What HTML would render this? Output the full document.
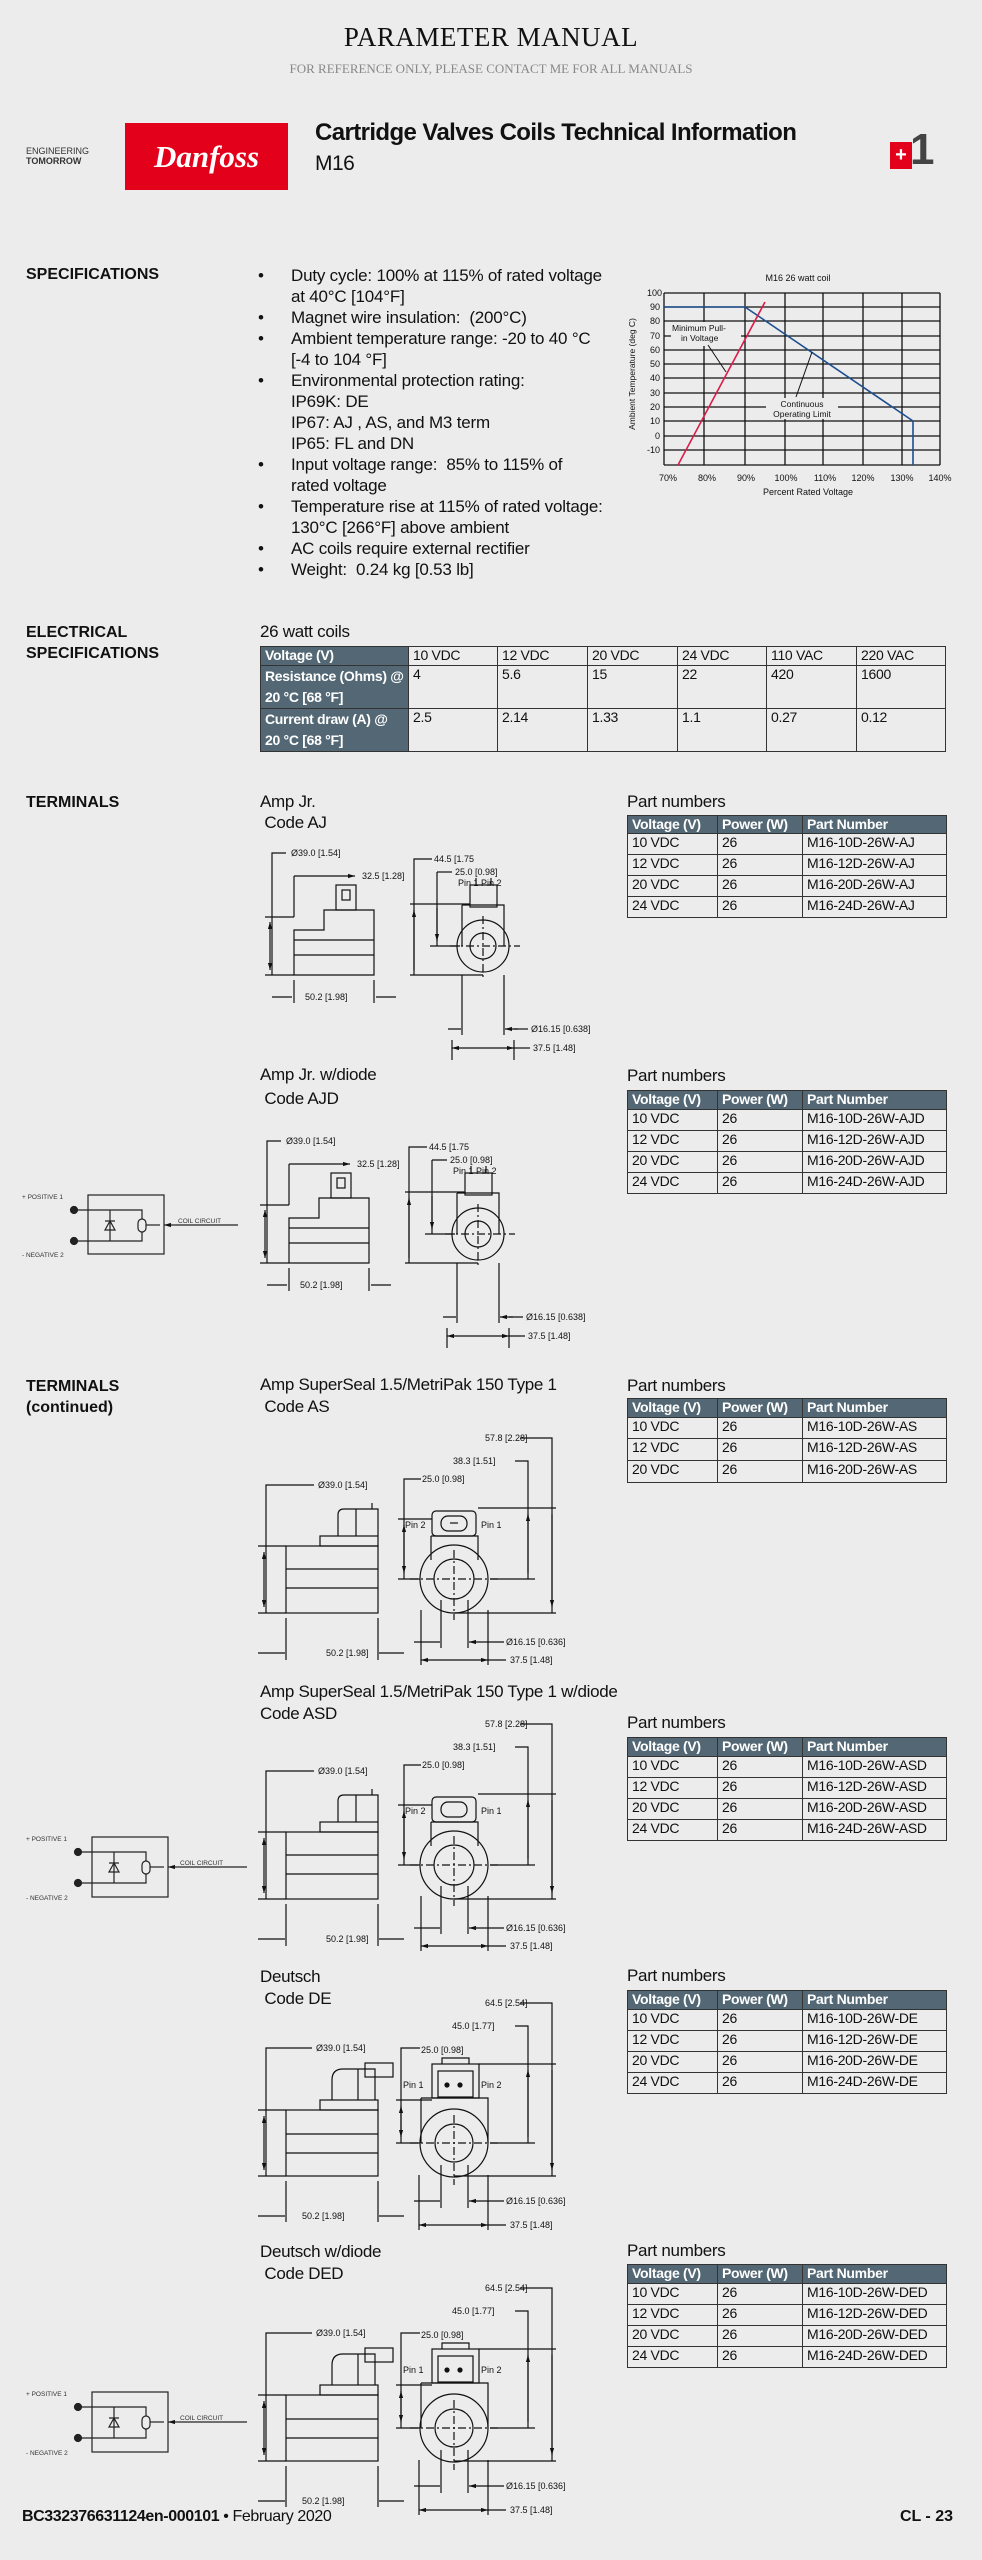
<!DOCTYPE html>
<html><head><meta charset="utf-8">
<style>
*{margin:0;padding:0;box-sizing:border-box}
body{width:982px;height:2560px;background:#ececec;position:relative;overflow:hidden;font-family:"Liberation Sans",sans-serif;color:#111}
.a{position:absolute;white-space:nowrap}
.h{font-weight:bold;font-size:16px;line-height:21px}
.t{font-size:17px;letter-spacing:-0.3px}
.b{font-size:17px;letter-spacing:-0.2px;line-height:21px}
table{position:absolute;border-collapse:collapse;font-size:14px;letter-spacing:-0.3px}
td{border:1.5px solid #333;padding:0 4px;vertical-align:top}
td.s{background:#536874;color:#fff;font-weight:bold}
</style></head><body>

<div class="a" style="left:0;width:982px;text-align:center;top:22px;font-family:'Liberation Serif',serif;font-size:27px;letter-spacing:0.5px">PARAMETER MANUAL</div>
<div class="a" style="left:0;width:982px;text-align:center;top:61px;font-family:'Liberation Serif',serif;font-size:13px;color:#888">FOR REFERENCE ONLY, PLEASE CONTACT ME FOR ALL MANUALS</div>

<div class="a" style="left:26px;top:146px;font-size:9px;line-height:10px;color:#333">ENGINEERING<br><b>TOMORROW</b></div>
<div class="a" style="left:125px;top:123px;width:163px;height:67px;background:#e2001a;color:#fff;font-family:'Liberation Serif',serif;font-style:italic;font-weight:bold;font-size:31px;text-align:center;line-height:67px">Danfoss</div>
<div class="a" style="left:315px;top:119px;font-size:24px;font-weight:bold;letter-spacing:-0.6px">Cartridge Valves Coils Technical Information</div>
<div class="a" style="left:315px;top:152px;font-size:21px;letter-spacing:-0.5px">M16</div>
<div class="a" style="left:890px;top:142px;width:22px;height:27px;background:#e2001a;color:#fff;font-weight:bold;font-size:20px;text-align:center;line-height:27px">+</div>
<div class="a" style="left:910px;top:128px;font-size:44px;font-weight:bold;color:#444;line-height:44px">1</div>

<div class="a h" style="left:26px;top:264px">SPECIFICATIONS</div>
<div class="a b" style="left:258px;top:265px">
•<br><br>•<br>•<br><br>•<br><br><br><br>•<br><br>•<br><br>•<br>•</div>
<div class="a b" style="left:291px;top:265px">Duty cycle: 100% at 115% of rated voltage<br>at 40°C [104°F]<br>Magnet wire insulation:&nbsp; (200°C)<br>Ambient temperature range: -20 to 40 °C<br>[-4 to 104 °F]<br>Environmental protection rating:<br>IP69K: DE<br>IP67: AJ , AS, and M3 term<br>IP65: FL and DN<br>Input voltage range:&nbsp; 85% to 115% of<br>rated voltage<br>Temperature rise at 115% of rated voltage:<br>130°C [266°F] above ambient<br>AC coils require external rectifier<br>Weight:&nbsp; 0.24 kg [0.53 lb]</div>

<div class="a h" style="left:26px;top:622px">ELECTRICAL<br>SPECIFICATIONS</div>
<div class="a t" style="left:260px;top:622px">26 watt coils</div>
<table style="left:260px;top:646px;width:686px">
<tr style="height:19px"><td class="s" style="width:148px">Voltage (V)</td><td style="width:89px">10 VDC</td><td style="width:90px">12 VDC</td><td style="width:90px">20 VDC</td><td style="width:89px">24 VDC</td><td style="width:90px">110 VAC</td><td>220 VAC</td></tr>
<tr style="height:42px"><td class="s" style="line-height:21px">Resistance (Ohms) @<br>20 °C [68 °F]</td><td>4</td><td>5.6</td><td>15</td><td>22</td><td>420</td><td>1600</td></tr>
<tr style="height:43px"><td class="s" style="line-height:21px">Current draw (A) @<br>20 °C [68 °F]</td><td>2.5</td><td>2.14</td><td>1.33</td><td>1.1</td><td>0.27</td><td>0.12</td></tr>
</table>

<div class="a h" style="left:26px;top:792px">TERMINALS</div>
<div class="a t" style="left:260px;top:791px;line-height:21px">Amp Jr.<br>&nbsp;Code AJ</div>
<div class="a t" style="left:627px;top:792px">Part numbers</div>
<table style="left:627px;top:815px;width:320px">
<tr style="height:18px"><td class="s" style="width:90px">Voltage (V)</td><td class="s" style="width:85px">Power (W)</td><td class="s">Part Number</td></tr>
<tr style="height:21px"><td>10 VDC</td><td>26</td><td>M16-10D-26W-AJ</td></tr>
<tr style="height:21px"><td>12 VDC</td><td>26</td><td>M16-12D-26W-AJ</td></tr>
<tr style="height:21px"><td>20 VDC</td><td>26</td><td>M16-20D-26W-AJ</td></tr>
<tr style="height:21px"><td>24 VDC</td><td>26</td><td>M16-24D-26W-AJ</td></tr>
</table>

<div class="a t" style="left:260px;top:1063px;line-height:24px">Amp Jr. w/diode<br>&nbsp;Code AJD</div>
<div class="a t" style="left:627px;top:1066px">Part numbers</div>
<table style="left:627px;top:1090px;width:320px">
<tr style="height:19px"><td class="s" style="width:90px">Voltage (V)</td><td class="s" style="width:85px">Power (W)</td><td class="s">Part Number</td></tr>
<tr style="height:21px"><td>10 VDC</td><td>26</td><td>M16-10D-26W-AJD</td></tr>
<tr style="height:21px"><td>12 VDC</td><td>26</td><td>M16-12D-26W-AJD</td></tr>
<tr style="height:21px"><td>20 VDC</td><td>26</td><td>M16-20D-26W-AJD</td></tr>
<tr style="height:21px"><td>24 VDC</td><td>26</td><td>M16-24D-26W-AJD</td></tr>
</table>

<div class="a h" style="left:26px;top:1376px">TERMINALS<br>(continued)</div>
<div class="a t" style="left:260px;top:1374px;line-height:22px">Amp SuperSeal 1.5/MetriPak 150 Type 1<br>&nbsp;Code AS</div>
<div class="a t" style="left:627px;top:1376px">Part numbers</div>
<table style="left:627px;top:1398px;width:320px">
<tr style="height:19px"><td class="s" style="width:90px">Voltage (V)</td><td class="s" style="width:85px">Power (W)</td><td class="s">Part Number</td></tr>
<tr style="height:21px"><td>10 VDC</td><td>26</td><td>M16-10D-26W-AS</td></tr>
<tr style="height:22px"><td>12 VDC</td><td>26</td><td>M16-12D-26W-AS</td></tr>
<tr style="height:22px"><td>20 VDC</td><td>26</td><td>M16-20D-26W-AS</td></tr>
</table>

<div class="a t" style="left:260px;top:1681px;line-height:22px">Amp SuperSeal 1.5/MetriPak 150 Type 1 w/diode<br>Code ASD</div>
<div class="a t" style="left:627px;top:1713px">Part numbers</div>
<table style="left:627px;top:1737px;width:320px">
<tr style="height:19px"><td class="s" style="width:90px">Voltage (V)</td><td class="s" style="width:85px">Power (W)</td><td class="s">Part Number</td></tr>
<tr style="height:21px"><td>10 VDC</td><td>26</td><td>M16-10D-26W-ASD</td></tr>
<tr style="height:21px"><td>12 VDC</td><td>26</td><td>M16-12D-26W-ASD</td></tr>
<tr style="height:21px"><td>20 VDC</td><td>26</td><td>M16-20D-26W-ASD</td></tr>
<tr style="height:21px"><td>24 VDC</td><td>26</td><td>M16-24D-26W-ASD</td></tr>
</table>

<div class="a t" style="left:260px;top:1966px;line-height:22px">Deutsch<br>&nbsp;Code DE</div>
<div class="a t" style="left:627px;top:1966px">Part numbers</div>
<table style="left:627px;top:1990px;width:320px">
<tr style="height:19px"><td class="s" style="width:90px">Voltage (V)</td><td class="s" style="width:85px">Power (W)</td><td class="s">Part Number</td></tr>
<tr style="height:21px"><td>10 VDC</td><td>26</td><td>M16-10D-26W-DE</td></tr>
<tr style="height:21px"><td>12 VDC</td><td>26</td><td>M16-12D-26W-DE</td></tr>
<tr style="height:21px"><td>20 VDC</td><td>26</td><td>M16-20D-26W-DE</td></tr>
<tr style="height:21px"><td>24 VDC</td><td>26</td><td>M16-24D-26W-DE</td></tr>
</table>

<div class="a t" style="left:260px;top:2241px;line-height:22px">Deutsch w/diode<br>&nbsp;Code DED</div>
<div class="a t" style="left:627px;top:2241px">Part numbers</div>
<table style="left:627px;top:2264px;width:320px">
<tr style="height:19px"><td class="s" style="width:90px">Voltage (V)</td><td class="s" style="width:85px">Power (W)</td><td class="s">Part Number</td></tr>
<tr style="height:21px"><td>10 VDC</td><td>26</td><td>M16-10D-26W-DED</td></tr>
<tr style="height:21px"><td>12 VDC</td><td>26</td><td>M16-12D-26W-DED</td></tr>
<tr style="height:21px"><td>20 VDC</td><td>26</td><td>M16-20D-26W-DED</td></tr>
<tr style="height:21px"><td>24 VDC</td><td>26</td><td>M16-24D-26W-DED</td></tr>
</table>

<div class="a" style="left:22px;top:2508px;font-size:16px;letter-spacing:-0.4px"><b>BC332376631124en-000101</b> • February 2020</div>
<div class="a" style="left:880px;width:73px;text-align:right;top:2508px;font-size:16px;font-weight:bold">CL - 23</div>

<svg class="a" style="left:0;top:0" width="982" height="2560" viewBox="0 0 982 2560" font-family="Liberation Sans, sans-serif">
<defs>
<marker id="ar" viewBox="0 0 10 10" refX="10" refY="5" markerWidth="6" markerHeight="6" orient="auto-start-reverse"><path d="M0,2 L10,5 L0,8 z" fill="#111"/></marker>
</defs>

<g stroke="#111" stroke-width="1.3" fill="none">
<text x="798" y="281" font-size="9" text-anchor="middle" fill="#111" stroke="none">M16 26 watt coil</text>
<path d="M664,293H940M664,307H940M664,321H940M664,336H940M664,350H940M664,364H940M664,378H940M664,393H940M664,407H940M664,421H940M664,436H940M664,450H940M664,465H940"/>
<path d="M664,293V465M704,293V465M745,293V465M785,293V465M823,293V465M863,293V465M902,293V465M940,293V465"/>
<path d="M664,307H745L913,421V465" stroke="#1d4f8f" stroke-width="1.6"/>
<path d="M678,465L765,302" stroke="#d81e4a" stroke-width="1.6"/>
<rect x="671" y="322" width="70" height="24" fill="#ececec" stroke="none"/>
<path d="M708,345L726,372M812,352L796,397" stroke-width="1"/>
<rect x="766" y="398" width="72" height="21" fill="#ececec" stroke="none"/>
</g>
<g font-size="8.5" fill="#111">
<text x="672" y="331">Minimum Pull-</text><text x="681" y="341">in Voltage</text>
<text x="802" y="407" text-anchor="middle">Continuous</text><text x="802" y="417" text-anchor="middle">Operating Limit</text>
<g text-anchor="end" font-size="9"><text x="662" y="296">100</text><text x="660" y="310">90</text><text x="660" y="324">80</text><text x="660" y="339">70</text><text x="660" y="353">60</text><text x="660" y="367">50</text><text x="660" y="381">40</text><text x="660" y="396">30</text><text x="660" y="410">20</text><text x="660" y="424">10</text><text x="660" y="439">0</text><text x="660" y="453">-10</text></g>
<g text-anchor="middle" font-size="9"><text x="668" y="481">70%</text><text x="707" y="481">80%</text><text x="746" y="481">90%</text><text x="786" y="481">100%</text><text x="825" y="481">110%</text><text x="863" y="481">120%</text><text x="902" y="481">130%</text><text x="940" y="481">140%</text></g>
<text x="808" y="495" text-anchor="middle" font-size="9">Percent Rated Voltage</text>
<text transform="translate(635,374) rotate(-90)" text-anchor="middle" font-size="8.5">Ambient Temperature (deg C)</text>
</g>

<g stroke="#111" stroke-width="1.2" fill="none">
<path d="M286,853H272V975M265,917H294M265,975H294"/>
<path d="M270,922V970" marker-start="url(#ar)" marker-end="url(#ar)"/>
<path d="M294,876V917M294,876H355" marker-end="url(#ar)"/>
<rect x="336" y="885" width="20" height="25"/><rect x="342" y="890" width="8" height="10"/>
<path d="M324,910H374V975H294V930H324Z M294,940H374M294,955H374"/>
<path d="M294,980V1003M374,980V1003M272,997H292M396,997H376" />
<rect x="470" y="885" width="27" height="22"/><path d="M476,885V878M491,885V878"/>
<path d="M462,905H504V946M462,905V946"/>
<circle cx="483" cy="946" r="26"/><circle cx="483" cy="946" r="13"/>
<path d="M450,946H520M483,916V980" stroke-dasharray="8 3 2 3"/>
<path d="M432,859H414V975M410,904H470M410,975H483M437,872V946M430,946H460"/>
<path d="M414,910V970M437,908V941" marker-start="url(#ar)" marker-end="url(#ar)"/>
<path d="M452,872H437"/>
<path d="M462,975V1035M504,975V1035M452,1040V1060M514,1040V1060"/>
<path d="M448,1029H461M518,1029H505" marker-end="url(#ar)"/>
<path d="M452,1048H514" marker-start="url(#ar)" marker-end="url(#ar)"/><path d="M514,1048H530"/>
<path d="M514,1029H528"/>
</g>
<g font-size="9" fill="#111">
<text x="291" y="856">Ø39.0 [1.54]</text><text x="362" y="879">32.5 [1.28]</text>
<text x="305" y="1000">50.2 [1.98]</text>
<text x="434" y="862">44.5 [1.75</text><text x="455" y="875">25.0 [0.98]</text><text x="458" y="886">Pin 1 Pin 2</text>
<text x="531" y="1032">Ø16.15 [0.638]</text><text x="533" y="1051">37.5 [1.48]</text>
</g>

<g transform="translate(-5,288)">
<g stroke="#111" stroke-width="1.2" fill="none">
<path d="M286,853H272V975M265,917H294M265,975H294"/>
<path d="M270,922V970" marker-start="url(#ar)" marker-end="url(#ar)"/>
<path d="M294,876V917M294,876H355" marker-end="url(#ar)"/>
<rect x="336" y="885" width="20" height="25"/><rect x="342" y="890" width="8" height="10"/>
<path d="M324,910H374V975H294V930H324Z M294,940H374M294,955H374"/>
<path d="M294,980V1003M374,980V1003M272,997H292M396,997H376"/>
<rect x="470" y="885" width="27" height="22"/><path d="M476,885V878M491,885V878"/>
<path d="M462,905H504V946M462,905V946"/>
<circle cx="483" cy="946" r="26"/><circle cx="483" cy="946" r="13"/>
<path d="M450,946H520M483,916V980" stroke-dasharray="8 3 2 3"/>
<path d="M432,859H414V975M410,904H470M410,975H483M437,872V946M430,946H460M452,872H437"/>
<path d="M414,910V970M437,908V941" marker-start="url(#ar)" marker-end="url(#ar)"/>
<path d="M462,975V1035M504,975V1035M452,1040V1060M514,1040V1060"/>
<path d="M448,1029H461M518,1029H505" marker-end="url(#ar)"/>
<path d="M452,1048H514" marker-start="url(#ar)" marker-end="url(#ar)"/><path d="M514,1048H530M514,1029H528"/>
</g>
<g font-size="9" fill="#111">
<text x="291" y="856">Ø39.0 [1.54]</text><text x="362" y="879">32.5 [1.28]</text>
<text x="305" y="1000">50.2 [1.98]</text>
<text x="434" y="862">44.5 [1.75</text><text x="455" y="875">25.0 [0.98]</text><text x="458" y="886">Pin 1 Pin 2</text>
<text x="531" y="1032">Ø16.15 [0.638]</text><text x="533" y="1051">37.5 [1.48]</text>
</g>
</g>

<g>
<g stroke="#111" stroke-width="1.2" fill="none">
<path d="M314,1485H266V1613M258,1546H286M258,1613H286"/>
<path d="M264,1552V1607" marker-start="url(#ar)" marker-end="url(#ar)"/>
<rect x="286" y="1546" width="92" height="67"/><path d="M286,1569H378M286,1588H378"/>
<rect x="320" y="1536" width="58" height="10"/>
<path d="M338,1536V1515Q338,1509 344,1509H378V1536M356,1509V1536M372,1509V1503"/>
<path d="M286,1618V1660M378,1618V1660M258,1653H285M404,1653H379"/>
<rect x="432" y="1511" width="44" height="25" rx="4"/><rect x="441" y="1516" width="26" height="15" rx="7"/>
<path d="M450,1523H458" />
<path d="M431,1536H478V1560M431,1536V1560"/>
<circle cx="454" cy="1579" r="34"/><circle cx="454" cy="1579" r="20"/>
<path d="M410,1579H500M454,1550V1620" stroke-dasharray="8 3 2 3"/>
<path d="M421,1479H404V1579M398,1519H432M398,1579H420"/>
<path d="M404,1525V1573" marker-start="url(#ar)" marker-end="url(#ar)"/>
<path d="M515,1461H528V1579M478,1508H556M490,1579H535M520,1438H552V1613M454,1613H556"/>
<path d="M528,1514V1573M552,1514V1607" marker-start="url(#ar)" marker-end="url(#ar)"/>
<path d="M441,1600V1648M468,1600V1648M421,1610V1665M488,1610V1665"/>
<path d="M414,1642H440M495,1642H469" marker-end="url(#ar)"/>
<path d="M421,1660H488" marker-start="url(#ar)" marker-end="url(#ar)"/><path d="M488,1660H506M495,1642H504"/>
</g>
<g font-size="9" fill="#111">
<text x="318" y="1488">Ø39.0 [1.54]</text><text x="485" y="1441">57.8 [2.28]</text><text x="453" y="1464">38.3 [1.51]</text>
<text x="422" y="1482">25.0 [0.98]</text><text x="326" y="1656">50.2 [1.98]</text>
<text x="405" y="1528">Pin 2</text><text x="481" y="1528">Pin 1</text>
<text x="506" y="1645">Ø16.15 [0.636]</text><text x="510" y="1663">37.5 [1.48]</text>
</g>
</g>

<g transform="translate(0,286)">
<g stroke="#111" stroke-width="1.2" fill="none">
<path d="M314,1485H266V1613M258,1546H286M258,1613H286"/>
<path d="M264,1552V1607" marker-start="url(#ar)" marker-end="url(#ar)"/>
<rect x="286" y="1546" width="92" height="67"/><path d="M286,1569H378M286,1588H378"/>
<rect x="320" y="1536" width="58" height="10"/>
<path d="M338,1536V1515Q338,1509 344,1509H378V1536M356,1509V1536M372,1509V1503"/>
<path d="M286,1618V1660M378,1618V1660M258,1653H285M404,1653H379"/>
<rect x="432" y="1511" width="44" height="25" rx="4"/><rect x="441" y="1516" width="26" height="15" rx="7"/>
<path d="M431,1536H478V1560M431,1536V1560"/>
<circle cx="454" cy="1579" r="34"/><circle cx="454" cy="1579" r="20"/>
<path d="M410,1579H500M454,1550V1620" stroke-dasharray="8 3 2 3"/>
<path d="M421,1479H404V1579M398,1519H432M398,1579H420"/>
<path d="M404,1525V1573" marker-start="url(#ar)" marker-end="url(#ar)"/>
<path d="M515,1461H528V1579M478,1508H556M490,1579H535M520,1438H552V1613M454,1613H556"/>
<path d="M528,1514V1573M552,1514V1607" marker-start="url(#ar)" marker-end="url(#ar)"/>
<path d="M441,1600V1648M468,1600V1648M421,1610V1665M488,1610V1665"/>
<path d="M414,1642H440M495,1642H469" marker-end="url(#ar)"/>
<path d="M421,1660H488" marker-start="url(#ar)" marker-end="url(#ar)"/><path d="M488,1660H506M495,1642H504"/>
</g>
<g font-size="9" fill="#111">
<text x="318" y="1488">Ø39.0 [1.54]</text><text x="485" y="1441">57.8 [2.28]</text><text x="453" y="1464">38.3 [1.51]</text>
<text x="422" y="1482">25.0 [0.98]</text><text x="326" y="1656">50.2 [1.98]</text>
<text x="405" y="1528">Pin 2</text><text x="481" y="1528">Pin 1</text>
<text x="506" y="1645">Ø16.15 [0.636]</text><text x="510" y="1663">37.5 [1.48]</text>
</g>
</g>

<g>
<g stroke="#111" stroke-width="1.2" fill="none">
<path d="M312,2048H266V2176M258,2110H286M258,2176H286"/>
<path d="M264,2116V2170" marker-start="url(#ar)" marker-end="url(#ar)"/>
<rect x="286" y="2110" width="92" height="66"/><path d="M286,2134H378M286,2153H378"/>
<rect x="320" y="2100" width="58" height="10"/>
<path d="M332,2100V2080Q332,2069 343,2069H375V2100M358,2069V2100"/>
<rect x="365" y="2063" width="28" height="14"/>
<path d="M286,2181V2222M378,2181V2222M258,2216H285M404,2216H379"/>
<rect x="432" y="2064" width="47" height="34"/><rect x="438" y="2071" width="35" height="26"/><path d="M442,2064V2058H469V2064"/>
<circle cx="447" cy="2085" r="2" fill="#111"/><circle cx="460" cy="2085" r="2" fill="#111"/>
<path d="M421,2098H488V2143M421,2098V2143"/>
<circle cx="454" cy="2143" r="34"/><circle cx="454" cy="2143" r="19"/>
<path d="M410,2143H500M454,2115V2185" stroke-dasharray="8 3 2 3"/>
<path d="M420,2048H401V2143M396,2100H432M396,2143H420"/>
<path d="M401,2106V2137" marker-start="url(#ar)" marker-end="url(#ar)"/>
<path d="M515,2026H528V2143M479,2064H556M490,2143H535M520,2003H552V2176M454,2176H556"/>
<path d="M528,2070V2137M552,2070V2170" marker-start="url(#ar)" marker-end="url(#ar)"/>
<path d="M441,2165V2208M468,2165V2208M419,2175V2230M488,2175V2230"/>
<path d="M414,2201H440M495,2201H469" marker-end="url(#ar)"/>
<path d="M419,2225H488" marker-start="url(#ar)" marker-end="url(#ar)"/><path d="M488,2225H506M495,2201H504"/>
</g>
<g font-size="9" fill="#111">
<text x="316" y="2051">Ø39.0 [1.54]</text><text x="485" y="2006">64.5 [2.54]</text><text x="452" y="2029">45.0 [1.77]</text>
<text x="421" y="2053">25.0 [0.98]</text><text x="302" y="2219">50.2 [1.98]</text>
<text x="403" y="2088">Pin 1</text><text x="481" y="2088">Pin 2</text>
<text x="506" y="2204">Ø16.15 [0.636]</text><text x="510" y="2228">37.5 [1.48]</text>
</g>
</g>

<g transform="translate(0,285)">
<g stroke="#111" stroke-width="1.2" fill="none">
<path d="M312,2048H266V2176M258,2110H286M258,2176H286"/>
<path d="M264,2116V2170" marker-start="url(#ar)" marker-end="url(#ar)"/>
<rect x="286" y="2110" width="92" height="66"/><path d="M286,2134H378M286,2153H378"/>
<rect x="320" y="2100" width="58" height="10"/>
<path d="M332,2100V2080Q332,2069 343,2069H375V2100M358,2069V2100"/>
<rect x="365" y="2063" width="28" height="14"/>
<path d="M286,2181V2222M378,2181V2222M258,2216H285M404,2216H379"/>
<rect x="432" y="2064" width="47" height="34"/><rect x="438" y="2071" width="35" height="26"/><path d="M442,2064V2058H469V2064"/>
<circle cx="447" cy="2085" r="2" fill="#111"/><circle cx="460" cy="2085" r="2" fill="#111"/>
<path d="M421,2098H488V2143M421,2098V2143"/>
<circle cx="454" cy="2143" r="34"/><circle cx="454" cy="2143" r="19"/>
<path d="M410,2143H500M454,2115V2185" stroke-dasharray="8 3 2 3"/>
<path d="M420,2048H401V2143M396,2100H432M396,2143H420"/>
<path d="M401,2106V2137" marker-start="url(#ar)" marker-end="url(#ar)"/>
<path d="M515,2026H528V2143M479,2064H556M490,2143H535M520,2003H552V2176M454,2176H556"/>
<path d="M528,2070V2137M552,2070V2170" marker-start="url(#ar)" marker-end="url(#ar)"/>
<path d="M441,2165V2208M468,2165V2208M419,2175V2230M488,2175V2230"/>
<path d="M414,2201H440M495,2201H469" marker-end="url(#ar)"/>
<path d="M419,2225H488" marker-start="url(#ar)" marker-end="url(#ar)"/><path d="M488,2225H506M495,2201H504"/>
</g>
<g font-size="9" fill="#111">
<text x="316" y="2051">Ø39.0 [1.54]</text><text x="485" y="2006">64.5 [2.54]</text><text x="452" y="2029">45.0 [1.77]</text>
<text x="421" y="2053">25.0 [0.98]</text><text x="302" y="2219">50.2 [1.98]</text>
<text x="403" y="2088">Pin 1</text><text x="481" y="2088">Pin 2</text>
<text x="506" y="2204">Ø16.15 [0.636]</text><text x="510" y="2228">37.5 [1.48]</text>
</g>
</g>

<g transform="translate(88,1195)">
<g stroke="#222" stroke-width="1.2" fill="none">
<rect x="0" y="0" width="76" height="59"/>
<circle cx="-14" cy="15" r="3.5" fill="#222"/><circle cx="-14" cy="46" r="3.5" fill="#222"/>
<path d="M-14,15H54V24M-14,46H54V37M22,15V46"/>
<path d="M17,35H27L22,26Z M17,26H27"/>
<rect x="50" y="24" width="8" height="13" rx="4"/>
<path d="M58,30H72" /><path d="M88,30H76" marker-end="url(#ar)"/><path d="M88,30H150"/>
</g>
<g font-size="6.5" fill="#333"><text x="-66" y="4">+ POSITIVE 1</text><text x="-66" y="62">- NEGATIVE 2</text><text x="90" y="28">COIL CIRCUIT</text></g>
</g>
<g transform="translate(92,1837)">
<g stroke="#222" stroke-width="1.2" fill="none">
<rect x="0" y="0" width="76" height="60"/>
<circle cx="-14" cy="15" r="3.5" fill="#222"/><circle cx="-14" cy="46" r="3.5" fill="#222"/>
<path d="M-14,15H54V24M-14,46H54V37M22,15V46"/>
<path d="M17,35H27L22,26Z M17,26H27"/>
<rect x="50" y="24" width="8" height="13" rx="4"/>
<path d="M58,30H72"/><path d="M88,30H76" marker-end="url(#ar)"/><path d="M88,30H155"/>
</g>
<g font-size="6.5" fill="#333"><text x="-66" y="4">+ POSITIVE 1</text><text x="-66" y="63">- NEGATIVE 2</text><text x="88" y="28">COIL CIRCUIT</text></g>
</g>
<g transform="translate(92,2392)">
<g stroke="#222" stroke-width="1.2" fill="none">
<rect x="0" y="0" width="76" height="60"/>
<circle cx="-14" cy="15" r="3.5" fill="#222"/><circle cx="-14" cy="46" r="3.5" fill="#222"/>
<path d="M-14,15H54V24M-14,46H54V37M22,15V46"/>
<path d="M17,35H27L22,26Z M17,26H27"/>
<rect x="50" y="24" width="8" height="13" rx="4"/>
<path d="M58,30H72"/><path d="M88,30H76" marker-end="url(#ar)"/><path d="M88,30H155"/>
</g>
<g font-size="6.5" fill="#333"><text x="-66" y="4">+ POSITIVE 1</text><text x="-66" y="63">- NEGATIVE 2</text><text x="88" y="28">COIL CIRCUIT</text></g>
</g>
</svg>
</body></html>
